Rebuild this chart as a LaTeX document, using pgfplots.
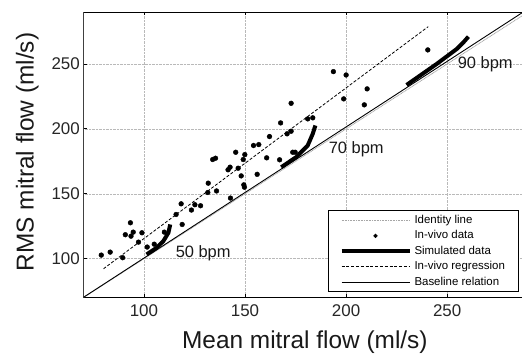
\documentclass[border=0pt]{standalone}
\usepackage{fontspec}
\setmainfont{Liberation Sans}
\usepackage{pgfplots}
\pgfplotsset{compat=1.18}
\begin{document}
\begin{tikzpicture}
\begin{axis}[
  scale only axis,
  width=438.7bp, height=285.7bp,
  xmin=70, xmax=287, ymin=70, ymax=290,
  axis x line*=box, axis y line*=left,
  xtick={100,150,200,250}, ytick={100,150,200,250},
  tick align=inside, major tick length=3.5bp,
  tick style={black, line width=0.8bp},
  x axis line style={black, line width=0.9bp},
  y axis line style={black!75, line width=1.3bp},
  grid=major,
  grid style={densely dotted, gray!55, line width=0.5bp},
  /pgf/number format/assume math mode=true,
  ticklabel style={font=\fontsize{17}{20}\selectfont, text=black!85},
  xticklabel style={yshift=-3bp},
  xlabel={Mean mitral flow (ml/s)},
  ylabel={RMS mitral flow (ml/s)},
  label style={font=\fontsize{24.5}{28}\selectfont, text=black!90},
  xlabel style={at={(axis description cs:0.505,-0.179)}, anchor=base},
  ylabel style={at={(axis description cs:-0.1135,0.51)}, anchor=base, rotate=0},
  legend cell align=left,
  legend style={at={(axis description cs:0.9916,0.019)}, anchor=south east,
    font=\fontsize{11.5}{13}\selectfont, draw=black, line width=0.8bp,
    inner xsep=11bp, inner ysep=2bp,
    nodes={text height=8.5bp, text depth=2.5bp, inner ysep=2.2bp},
    column sep=1bp},
  legend image code/.code={\draw[#1] (0bp,0bp) -- (68bp,0bp);},
]
% identity line
\addplot[gray!70, line width=0.8bp, dash pattern=on 1bp off 0.6bp] coordinates {(70,70) (290,290)};
\addlegendentry{Identity line}
% in-vivo data
\addplot[only marks, mark=*, mark size=2.4bp, black,
  legend image code/.code={\fill[black] (34bp,0bp) circle (1.7bp);}] coordinates {
(78.9,102.8) (83.3,105.1) (89.5,100.8) (90.8,118.5) (93.3,127.7) (93.6,117.4)
(94.7,120.5) (97.3,112.8) (99,120) (101.6,109) (105.1,111.2) (110.1,120.5)
(115.9,134.1) (118.4,142.3) (118.9,126.4) (123.5,137.5) (125.2,141.6) (128,140.8)
(131.8,158.2) (131.6,151) (135.9,152.2) (134,176.4) (135.4,177.4) (141.6,168.5)
(142.6,170.5) (142.8,146.7) (145.4,182) (146.6,169.7) (148.1,163.8) (149.1,176.4)
(149.9,180.2) (149.4,156.9) (149.7,155.1) (154.2,187.2) (156.8,187.9) (156,165)
(160.7,177.7) (162.1,194.1) (167.1,176.2) (167.6,204.6) (170.8,196.2) (172.8,198.2)
(172.8,219.7) (173.6,182) (174.8,182) (181,207.7) (183.5,208.5) (193.7,244.1)
(198.8,223.1) (200,241.5) (209,218.5) (210.4,230.8) (240.4,260.8)
};
\addlegendentry{In-vivo data}
% simulated data
\addplot[black, line width=4bp] coordinates {
(101.3,103.3) (106.3,108.5) (109.6,113.6) (112.1,120) (113,126.4)
};
\addlegendentry{Simulated data}
% in-vivo regression
\addplot[black, line width=0.8bp, dash pattern=on 3bp off 1.8bp] coordinates {(80,92.3) (240.6,278.7)};
\addlegendentry{In-vivo regression}
% baseline relation
\addplot[black, line width=0.9bp] coordinates {(70,70.2) (290,292.4)};
\addlegendentry{Baseline relation}
\addplot[black, line width=4bp, forget plot] coordinates {
(167.9,170.5) (175.3,178.2) (181,187.2) (183.5,196.2) (184.8,202.6)
};
\addplot[black, line width=4bp, forget plot] coordinates {
(229.9,233.8) (244.8,250) (254.7,261.5) (258,266.6) (260.5,271)
};
\node[font=\fontsize{16.5}{19}\selectfont, text=black!90] at (axis cs:129.3,104.6) {50 bpm};
\node[font=\fontsize{16.5}{19}\selectfont, text=black!90] at (axis cs:205,184.6) {70 bpm};
\node[font=\fontsize{16.5}{19}\selectfont, text=black!90] at (axis cs:268.8,250) {90 bpm};
\coordinate (O) at (rel axis cs:0,0);
\end{axis}
\pgfresetboundingbox
\path (O) ++(-83.3bp,-56.3bp) rectangle ++(522bp,354bp);
\end{tikzpicture}
\end{document}
